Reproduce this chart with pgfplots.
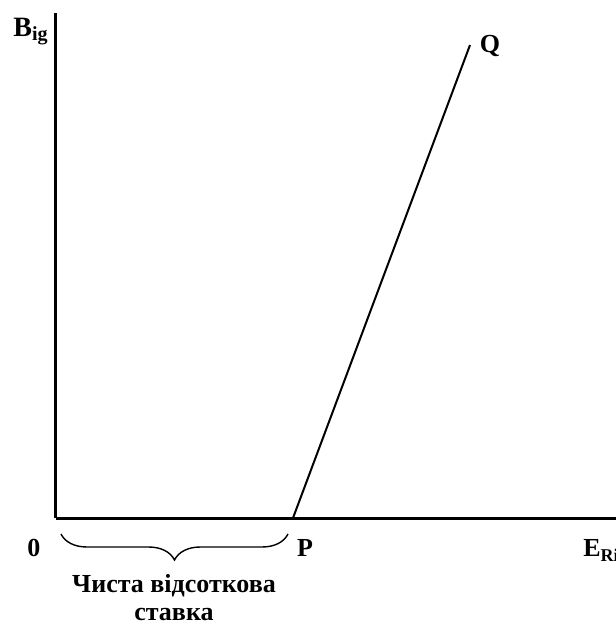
\documentclass[border=0pt]{standalone}
\usepackage{fontspec}
\setmainfont{Liberation Serif}
\usepackage{pgfplots}
\pgfplotsset{compat=1.18}
\usetikzlibrary{decorations.pathreplacing}

\begin{document}
\begin{tikzpicture}
\begin{axis}[scale only axis, width=280pt, height=252.5pt,
	anchor=south west, at={(0,0)},
	xmin=0, xmax=560, ymin=0, ymax=505,
	axis lines=left, axis line style={line width=1.5pt, -},
	xtick=\empty, ytick=\empty, clip=false,
	font=\fontsize{13}{15}\selectfont\bfseries]
	% line P-Q, in pixel-like units
	\addplot[black, line width=1pt] coordinates {(237,0) (414,473)};
	\node[anchor=base west, inner sep=0] at (axis cs:-43,482)
		{\fontsize{14}{16}\selectfont B\raisebox{-2.5pt}{\fontsize{10}{11}\selectfont ig}};
	\node[inner sep=0] at (axis cs:-22,-30) {0};
	\node[inner sep=0] at (axis cs:249,-30) {P};
	\node[inner sep=0] at (axis cs:434,472) {Q};
	\node[anchor=west, inner sep=0] at (axis cs:527,-32)
		{\fontsize{13}{15}\selectfont E\raisebox{-2.5pt}{\fontsize{9}{10}\selectfont Ri}};
	\draw[line width=0.7pt, decorate, decoration={brace, mirror, amplitude=13pt}]
		(axis cs:5,-16) -- (axis cs:232,-16);
	\node[align=center, inner sep=0] at (axis cs:118,-80)
		{Чиста відсоткова\\[-1pt]ставка};
\end{axis}
\pgfresetboundingbox
\path[use as bounding box] (-28pt,-55pt) rectangle (280pt,259pt);
\end{tikzpicture}
\end{document}
